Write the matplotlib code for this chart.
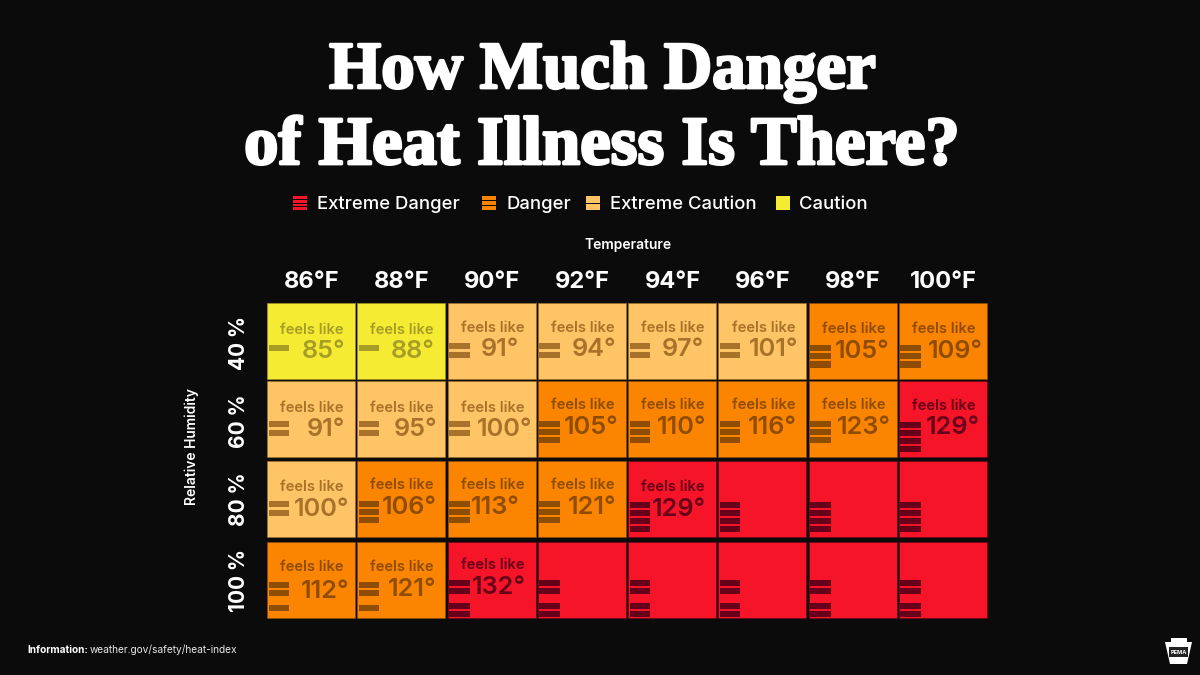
import matplotlib
matplotlib.use("Agg")
import matplotlib.pyplot as plt
import matplotlib.patheffects as pe
from matplotlib.patches import Rectangle, Polygon

temps = ["86°F", "88°F", "90°F", "92°F", "94°F", "96°F", "98°F", "100°F"]
humidity = ["40 %", "60 %", "80 %", "100 %"]

# heat index, None where the chart shows no number
feels = [
    [85, 88, 91, 94, 97, 101, 105, 109],
    [91, 95, 100, 105, 110, 116, 123, 129],
    [100, 106, 113, 121, 129, None, None, None],
    [112, 121, 132, None, None, None, None, None],
]
# 1 caution, 2 extreme caution, 3 danger, 4 extreme danger
levels = [
    [1, 1, 2, 2, 2, 2, 3, 3],
    [2, 2, 2, 3, 3, 3, 3, 4],
    [2, 3, 3, 3, 4, 4, 4, 4],
    [3, 3, 4, 4, 4, 4, 4, 4],
]
level_names = ["Extreme Danger", "Danger", "Extreme Caution", "Caution"]
legend_levels = [4, 3, 2, 1]

# the numbers are hand placed in the original, pixels from the tile corner
value_right = [
    [78, 77, 72, 79, 76, 80, 81, 84],
    [78, 80, 85, 81, 78, 79, 82, 81],
    [82, 80, 72, 79, 78, 0, 0, 0],
    [82, 79, 78, 0, 0, 0, 0, 0],
]
value_y = [
    [49, 49, 47, 47, 47, 47, 49, 49],
    [49, 49, 49, 46, 46, 46, 47, 47],
    [48, 46, 46, 46, 49, 0, 0, 0],
    [50, 47, 45, 0, 0, 0, 0, 0],
]
label_y = [
    [27, 27, 25, 25, 25, 25, 26, 26],
    [27, 27, 27, 24, 24, 24, 24, 25],
    [26, 24, 24, 24, 26, 0, 0, 0],
    [25, 25, 23, 0, 0, 0, 0, 0],
]
row_top = [303, 381, 461, 542]

BG = "#0b0b0b"
tile_col = {1: "#f5eb33", 2: "#ffc466", 3: "#fb8500", 4: "#f51428"}
mark_col = {1: "#a79d26", 2: "#a8722a", 3: "#8e4c05", 4: "#66001a"}
FONT = "Inter"

W, H = 1200, 675
fig = plt.figure(figsize=(12, 6.75), dpi=100, facecolor=BG)

# overlay in pixels for the free text
page = fig.add_axes([0, 0, 1, 1])
page.set_xlim(0, W)
page.set_ylim(H, 0)
page.axis("off")

# grid axes, one unit per cell
left, top, right, bottom = 267, 303, 989, 620
ax = fig.add_axes([left / W, 1 - bottom / H, (right - left) / W, (bottom - top) / H])
ax.set_xlim(0, 8)
ax.set_ylim(4, 0)
ax.axis("off")
ax.patch.set_alpha(0)

ux = 90.25
uy = 79.25


def stripe_offsets(r, lvl):
    if r == 3:
        start = {3: 40, 4: 38}[lvl]
        return [start, start + 8.2, start + 22.5, start + 31][:lvl]
    if lvl == 1:
        return [42]
    if lvl == 2:
        return [40, 49]
    if lvl == 3:
        start = 42 if r == 0 else 39.5
        return [start + 8.2 * i for i in range(3)]
    return [40.5 + 8.2 * i for i in range(4)]


for r in range(4):
    for c in range(8):
        lvl = levels[r][c]
        # rows are not evenly spaced, so shift from the axes grid
        y0 = r + (row_top[r] - top - r * uy) / uy
        ax.add_patch(Rectangle((c, y0), 88 / ux, 75.5 / uy, fc=tile_col[lvl],
                               ec=mark_col[lvl], lw=0.4))
        for off in stripe_offsets(r, lvl):
            ax.add_patch(Rectangle((c + 1.5 / ux, y0 + off / uy), 20.5 / ux, 6.2 / uy,
                                   fc=mark_col[lvl], ec="none"))
        v = feels[r][c]
        if v is None:
            continue
        ax.text(c + 45 / ux, y0 + label_y[r][c] / uy, "feels like", ha="center", va="center",
                fontsize=10.6, color=mark_col[lvl], family=FONT, fontweight="semibold")
        ax.text(c + value_right[r][c] / ux, y0 + value_y[r][c] / uy, f"{v}°", ha="right",
                va="center", fontsize=18.2, color=mark_col[lvl], family=FONT,
                fontweight="semibold")

# title
fat = [pe.withStroke(linewidth=2, foreground="white")]
page.text(602, 88, "How Much Danger", ha="center", va="baseline", color="white",
          fontsize=48.2, family="Liberation Serif", fontweight="bold", path_effects=fat)
page.text(602, 164, "of Heat Illness Is There?", ha="center", va="baseline", color="white",
          fontsize=49.5, family="Liberation Serif", fontweight="bold", path_effects=fat)

# legend
legend_x = [293, 482, 586, 776]
text_x = [317, 506, 610, 799]
for lx, tx, lvl, name in zip(legend_x, text_x, legend_levels, level_names):
    gap = 1
    h = (14 - gap * (lvl - 1)) / lvl
    for i in range(lvl):
        page.add_patch(Rectangle((lx, 196 + i * (h + gap)), 14, h, fc=tile_col[lvl], ec="none"))
    page.text(tx, 204.5, name, ha="left", va="center", color="white", fontsize=13.3,
              family=FONT, fontweight="medium")

# axis labels
page.text(628, 244.5, "Temperature", ha="center", va="center", color="white",
          fontsize=10, family=FONT, fontweight="semibold")
page.text(192, 447, "Relative Humidity", ha="center", va="center", rotation=90, color="white",
          fontsize=10, family=FONT, fontweight="semibold")
for c, t in enumerate(temps):
    ax.text(c + 44.5 / ux, -21 / uy, t, ha="center", va="center", color="white",
            fontsize=17, family=FONT, fontweight="bold")
hum_y = [343, 421, 499, 581]
for h, y in zip(humidity, hum_y):
    page.text(239, y, h, ha="center", va="center", rotation=90, color="white",
              fontsize=15, family=FONT, fontweight="bold")

# footer
page.text(27, 650, "Information:", ha="left", va="center", color="white",
          fontsize=7.3, family=FONT, fontweight="bold")
page.text(89.5, 650, "weather.gov/safety/heat-index", ha="left", va="center", color="#e8e8e8",
          fontsize=7.3, family=FONT)

# keystone logo
page.add_patch(Polygon([(1171, 638), (1187, 638), (1187, 642), (1192, 642), (1187, 664),
                        (1170, 664), (1165, 642), (1171, 642)], fc="white", ec="none"))
page.add_patch(Rectangle((1169, 647), 19, 10, fc="#222222", ec="none"))
page.text(1178.5, 652, "PEMA", ha="center", va="center", color="white", fontsize=4,
          family=FONT, fontweight="bold")

fig.savefig("out.png", dpi=100, facecolor=BG)
